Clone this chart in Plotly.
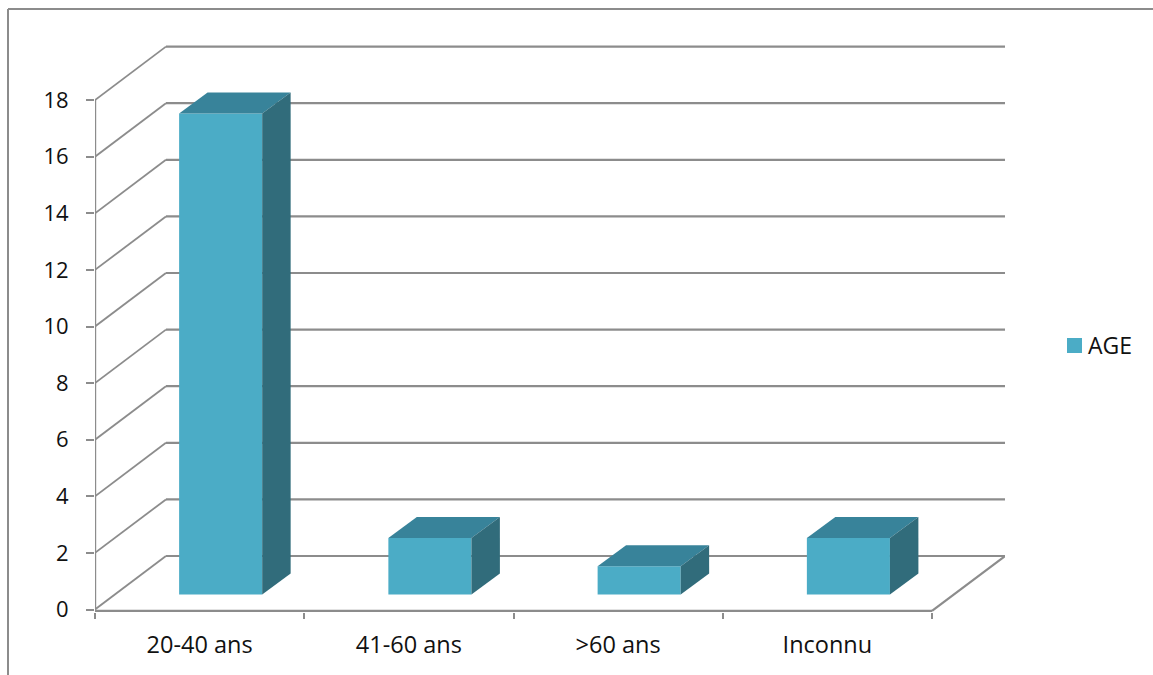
import plotly.graph_objects as go

# Chart data
categories = ["20-40 ans", "41-60 ans", ">60 ans", "Inconnu"]
age_counts = [17, 2, 1, 2]
value_ticks = [0, 2, 4, 6, 8, 10, 12, 14, 16, 18]
series_name = "AGE"

# Colours
FRONT = "#4BACC6"
TOP = "#38839A"
SIDE = "#316C7B"
LINE = "#8C8C8C"
TEXT = "#111111"
FONT = "Open Sans"

# Figure and plot-area size in pixels
WIDTH, HEIGHT = 1153, 675
LEFT, RIGHT, TOP_M, BOTTOM = 95, 148, 40, 63
PLOT_W = WIDTH - LEFT - RIGHT
PLOT_H = HEIGHT - TOP_M - BOTTOM


def paper_x(px):
    return (px - LEFT) / PLOT_W


def paper_y(py):
    return (HEIGHT - BOTTOM - py) / PLOT_H


# Oblique projection: how far the rear wall sits from the front plane, in axis units
WALL_DX = 0.339
WALL_DY = 1.89
WALL_END = 0.349
# Bar box inside each category slot
BAR_OFFSET = 0.402
BAR_WIDTH = 0.397
BAR_BASE = 0.53
BAR_DX = 0.136
BAR_DY = 0.742

n = len(categories)
slots = [i + 0.5 for i in range(n)]
lefts = [i + BAR_OFFSET for i in range(n)]

fig = go.Figure()

# Front faces of the boxes
fig.add_trace(go.Bar(
    x=[l + BAR_WIDTH / 2 for l in lefts], y=age_counts, base=BAR_BASE, width=BAR_WIDTH,
    name=series_name, marker=dict(color=FRONT, line=dict(width=0)), showlegend=False,
))

# Top and side faces, projected from the same values
for l, v in zip(lefts, age_counts):
    r = l + BAR_WIDTH
    top = BAR_BASE + v
    fig.add_trace(go.Scatter(
        x=[l, l + BAR_DX, r + BAR_DX, r, l],
        y=[top, top + BAR_DY, top + BAR_DY, top, top],
        mode="lines", fill="toself", fillcolor=TOP, line=dict(width=0),
        showlegend=False, hoverinfo="skip", cliponaxis=False,
    ))
    fig.add_trace(go.Scatter(
        x=[r, r + BAR_DX, r + BAR_DX, r, r],
        y=[top, top + BAR_DY, BAR_BASE + BAR_DY, BAR_BASE, top],
        mode="lines", fill="toself", fillcolor=SIDE, line=dict(width=0),
        showlegend=False, hoverinfo="skip", cliponaxis=False,
    ))


def wall_line(x0, y0, x1, y1, width=1.8):
    return dict(type="line", xref="x", yref="y", x0=x0, y0=y0, x1=x1, y1=y1,
                layer="below", line=dict(color=LINE, width=width))


shapes = []
# Rear-wall gridlines and their diagonals down the side wall
for v in value_ticks:
    shapes.append(wall_line(WALL_DX, v + WALL_DY, n + WALL_END, v + WALL_DY, 2.2))
    shapes.append(wall_line(0, v, WALL_DX, v + WALL_DY))
# Floor edges and the front vertical axis
shapes.append(wall_line(n, -0.05, n + WALL_END, WALL_DY, 2.2))
shapes.append(wall_line(0, -0.05, n, -0.05, 2.4))
shapes.append(wall_line(0, 0, 0, value_ticks[-1], 2.4))

# Chart frame, open on the right and bottom
for x0, y0, x1, y1 in [(8, 9, WIDTH, 9), (8, 9, 8, HEIGHT)]:
    shapes.append(dict(type="line", xref="paper", yref="paper",
                       x0=paper_x(x0), y0=paper_y(y0), x1=paper_x(x1), y1=paper_y(y1),
                       layer="below", line=dict(color=LINE, width=2)))

# Series key: colour swatch beside the series name
shapes.append(dict(type="rect", xref="paper", yref="paper",
                   x0=paper_x(1067), y0=paper_y(338), x1=paper_x(1082), y1=paper_y(353),
                   fillcolor=FRONT, line=dict(width=0)))

fig.update_layout(
    width=WIDTH, height=HEIGHT,
    margin=dict(l=LEFT, r=RIGHT, t=TOP_M, b=BOTTOM, autoexpand=False),
    paper_bgcolor="white", plot_bgcolor="white",
    barmode="overlay",
    showlegend=False,
    shapes=shapes,
    annotations=[dict(text=series_name, xref="paper", yref="paper", showarrow=False,
                      x=paper_x(1086), xanchor="left", y=paper_y(345), yanchor="middle",
                      font=dict(family=FONT, size=23, color=TEXT))],
    font=dict(family=FONT, size=22, color=TEXT),
    xaxis=dict(
        range=[0, PLOT_W / 209.25], showgrid=False, zeroline=False, showline=False,
        tickmode="array", tickvals=slots, ticktext=categories,
        tickfont=dict(family=FONT, size=23.5, color=TEXT),
        ticks="outside", ticklen=12, tickcolor="rgba(0,0,0,0)",
        minor=dict(tickmode="array", tickvals=list(range(n + 1)), ticks="outside",
                   ticklen=6, tickwidth=1.5, tickcolor=LINE, showgrid=False),
    ),
    yaxis=dict(
        range=[-2.5 / 28.3, 569.5 / 28.3], showgrid=False, zeroline=False, showline=False,
        tickmode="array", tickvals=value_ticks,
        ticks="outside", ticklen=8, tickwidth=1.5, tickcolor=LINE,
        ticklabelstandoff=13,
    ),
)

fig.write_html("out.html")
